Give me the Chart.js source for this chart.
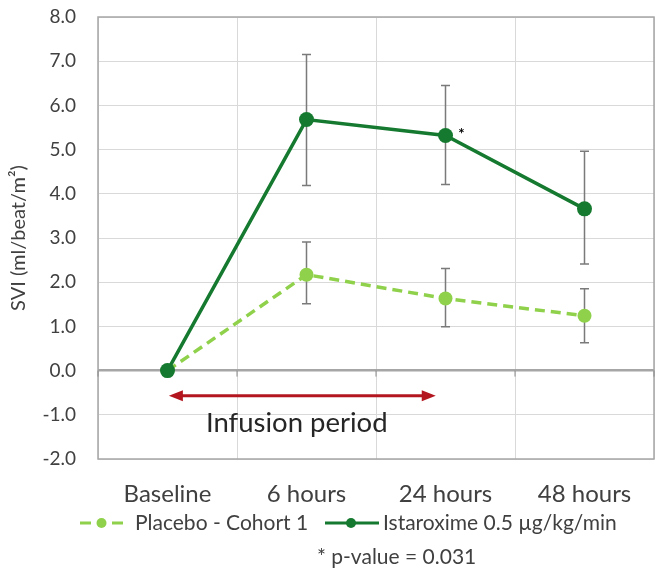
<!DOCTYPE html>
<html>
<head>
<meta charset="utf-8">
<script src="https://cdn.jsdelivr.net/npm/chart.js@4.4.1/dist/chart.umd.min.js"></script>
<style>
  html, body { margin: 0; padding: 0; background: #fff; }
  #wrap { width: 655px; height: 573px; position: relative; }
</style>
</head>
<body>
<div id="wrap"><canvas id="sviChart"></canvas></div>
<script>
const timeLabels = ['Baseline', '6 hours', '24 hours', '48 hours'];

const placeboMean = [0, 2.17, 1.63, 1.24];
const placeboHigh = [null, 2.91, 2.31, 1.85];
const placeboLow = [null, 1.51, 0.99, 0.63];

const istaroximeMean = [0, 5.68, 5.32, 3.66];
const istaroximeHigh = [null, 7.15, 6.45, 4.96];
const istaroximeLow = [null, 4.19, 4.21, 2.41];

const placeboName = 'Placebo - Cohort 1';
const istaroximeName = 'Istaroxime 0.5 µg/kg/min';
const noteText = '* p-value = 0.031';

const darkGreen = '#157a2f';
const lightGreen = '#8fd14b';
const arrowRed = '#b3161f';
const textGray = '#404040';
const font = 'Lato, "Open Sans", sans-serif';

// vertical whiskers with caps, drawn under the markers
const errorBars = {
  id: 'errorBars',
  beforeDatasetsDraw(chart) {
    const { ctx, scales: { x, y } } = chart;
    ctx.save();
    ctx.strokeStyle = '#7a7a7a';
    ctx.lineWidth = 1.5;
    chart.data.datasets.forEach(ds => {
      ds.high.forEach((hi, i) => {
        const lo = ds.low[i];
        if (hi == null || lo == null) return;
        const px = x.getPixelForValue(i);
        const top = y.getPixelForValue(hi);
        const bot = y.getPixelForValue(lo);
        ctx.beginPath();
        ctx.moveTo(px, top); ctx.lineTo(px, bot);
        ctx.moveTo(px - 4.5, top); ctx.lineTo(px + 4.5, top);
        ctx.moveTo(px - 4.5, bot); ctx.lineTo(px + 4.5, bot);
        ctx.stroke();
      });
    });
    ctx.restore();
  }
};

// plot frame, small ticks on the zero line
const frame = {
  id: 'frame',
  beforeDatasetsDraw(chart) {
    const { ctx, chartArea: a, scales: { x, y } } = chart;
    ctx.save();
    ctx.strokeStyle = '#a6a6a6';
    ctx.lineWidth = 1.5;
    ctx.strokeRect(a.left, a.top, a.right - a.left, a.bottom - a.top);
    const y0 = y.getPixelForValue(0);
    ctx.lineWidth = 1;
    ctx.strokeStyle = '#8c8c8c';
    for (let i = 0; i <= timeLabels.length; i++) {
      const px = x.getPixelForValue(i - 0.5);
      ctx.beginPath();
      ctx.moveTo(px, y0);
      ctx.lineTo(px, y0 + 6);
      ctx.stroke();
    }
    ctx.restore();
  }
};

const drawArrowHead = (ctx, tipX, tipY, dir) => {
  ctx.beginPath();
  ctx.moveTo(tipX, tipY);
  ctx.lineTo(tipX - dir * 14, tipY - 5.5);
  ctx.lineTo(tipX - dir * 14, tipY + 5.5);
  ctx.closePath();
  ctx.fill();
};

// infusion arrow, asterisk, legend and footnote
const extras = {
  id: 'extras',
  afterDraw(chart) {
    const { ctx, scales: { x, y } } = chart;
    ctx.save();

    const ay = y.getPixelForValue(-0.57);
    const ax1 = x.getPixelForValue(0.01);
    const ax2 = x.getPixelForValue(1.93);
    ctx.strokeStyle = arrowRed;
    ctx.fillStyle = arrowRed;
    ctx.lineWidth = 3;
    ctx.beginPath();
    ctx.moveTo(ax1 + 10, ay);
    ctx.lineTo(ax2 - 10, ay);
    ctx.stroke();
    drawArrowHead(ctx, ax1, ay, -1);
    drawArrowHead(ctx, ax2, ay, 1);

    ctx.fillStyle = '#262626';
    ctx.font = '27.5px ' + font;
    ctx.textAlign = 'center';
    ctx.textBaseline = 'middle';
    ctx.fillText('Infusion period', x.getPixelForValue(0.93), y.getPixelForValue(-1.18));

    // significance mark next to the 24 hour point
    const sx = x.getPixelForValue(2) + 16;
    const sy = y.getPixelForValue(istaroximeMean[2]) - 1;
    ctx.font = 'bold 15px ' + font;
    ctx.fillStyle = '#000';
    ctx.fillText('*', sx, sy);

    // legend
    const ly = 523;
    ctx.lineWidth = 3;
    ctx.strokeStyle = lightGreen;
    ctx.fillStyle = lightGreen;
    ctx.beginPath();
    ctx.moveTo(80, ly); ctx.lineTo(91, ly);
    ctx.moveTo(112, ly); ctx.lineTo(123, ly);
    ctx.stroke();
    ctx.beginPath(); ctx.arc(101.5, ly, 5, 0, Math.PI * 2); ctx.fill();

    ctx.strokeStyle = darkGreen;
    ctx.fillStyle = darkGreen;
    ctx.beginPath();
    ctx.moveTo(325, ly); ctx.lineTo(379, ly);
    ctx.stroke();
    ctx.beginPath(); ctx.arc(351, ly, 5, 0, Math.PI * 2); ctx.fill();

    ctx.fillStyle = textGray;
    ctx.font = '21px ' + font;
    ctx.textAlign = 'left';
    ctx.fillText(placeboName, 135, ly);
    ctx.fillText(istaroximeName, 383, ly);

    ctx.font = '21px ' + font;
    ctx.fillText(noteText, 317, 557);
    ctx.restore();
  }
};

document.addEventListener('DOMContentLoaded', () => {
  const sviChart = new Chart(document.getElementById('sviChart'), {
    type: 'line',
    data: {
      labels: timeLabels,
      datasets: [
        {
          label: istaroximeName,
          data: istaroximeMean,
          high: istaroximeHigh,
          low: istaroximeLow,
          borderColor: darkGreen,
          backgroundColor: darkGreen,
          borderWidth: 3.5,
          pointRadius: 7.5,
          pointBorderWidth: 0,
          tension: 0,
          order: 0
        },
        {
          label: placeboName,
          data: placeboMean,
          high: placeboHigh,
          low: placeboLow,
          borderColor: lightGreen,
          backgroundColor: lightGreen,
          borderWidth: 3.5,
          borderDash: [10, 6],
          pointRadius: 7,
          pointBorderWidth: 0,
          tension: 0,
          order: 1
        }
      ]
    },
    options: {
      responsive: true,
      maintainAspectRatio: false,
      animation: false,
      layout: { autoPadding: false, padding: { top: 17, right: 1, bottom: 64, left: 0 } },
      plugins: {
        legend: { display: false },
        tooltip: { enabled: false }
      },
      scales: {
        x: {
          offset: true,
          grid: { offset: true, color: '#d9d9d9', lineWidth: 1, drawTicks: false },
          border: { display: false },
          ticks: { padding: 21, color: textGray, font: { family: font, size: 24 } },
          afterFit: s => {
            s.height = 50;
            s.paddingLeft = 0;
            s.paddingRight = 0;
          }
        },
        y: {
          min: -2,
          max: 8,
          grid: {
            drawTicks: false,
            color: c => (c.tick.value === 0 ? '#a6a6a6' : '#d9d9d9'),
            lineWidth: c => (c.tick.value === 0 ? 2.5 : 1)
          },
          border: { display: false },
          ticks: {
            stepSize: 1,
            padding: 22,
            color: textGray,
            font: { family: font, size: 19 },
            callback: v => v.toFixed(1)
          },
          title: {
            display: true,
            text: 'SVI (ml/beat/m²)',
            color: textGray,
            padding: { top: 7, bottom: 0 },
            font: { family: font, size: 20 }
          },
          afterFit: s => {
            s.width = 98;
            s.paddingTop = 0;
            s.paddingBottom = 0;
          }
        }
      }
    },
    plugins: [frame, errorBars, extras]
  });
});
</script>
</body>
</html>
